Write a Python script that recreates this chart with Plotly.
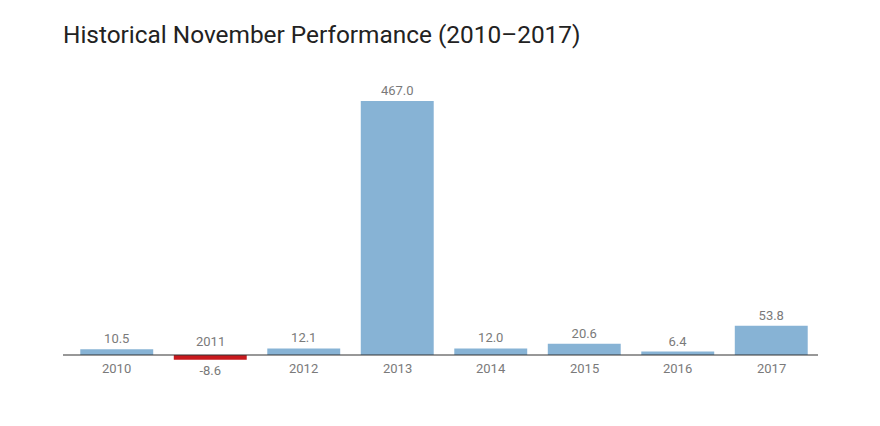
import plotly.graph_objects as go

years = ["2010", "2011", "2012", "2013", "2014", "2015", "2016", "2017"]
values = [10.5, -8.6, 12.1, 467.0, 12.0, 20.6, 6.4, 53.8]

BLUE = "#87b3d5"
RED = "#c8191d"
GREY = "#7a7a7a"

colors = [RED if v < 0 else BLUE for v in values]

fig = go.Figure(
    go.Bar(
        x=years,
        y=values,
        marker=dict(color=colors, line=dict(width=0)),
        text=[f"{v:.1f}" for v in values],
        textposition="outside",
        textfont=dict(family="Roboto", size=13, color=GREY),
        cliponaxis=False,
        hoverinfo="x+y",
    )
)

# year labels: under the axis for positive bars, above it for negative ones
# (x given as category index so "2010" isn't read as a position)
for i, (yr, v) in enumerate(zip(years, values)):
    fig.add_annotation(
        x=i, y=0, text=yr, showarrow=False,
        yanchor="bottom" if v < 0 else "top",
        yshift=4 if v < 0 else -4,
        font=dict(family="Roboto", size=13, color=GREY),
    )

# baseline sticks out a little to the left of the first bar
fig.add_shape(
    type="line", xref="paper", yref="y",
    x0=-7 / 748, x1=1, y0=0, y1=0,
    line=dict(color="#333333", width=1.2),
)

# page body has an 8px margin, so everything is nudged up/left by 8px
fig.update_layout(
    width=880,
    height=426,
    paper_bgcolor="white",
    plot_bgcolor="white",
    margin=dict(l=62, r=70, t=72, b=54),
    bargap=0.22,
    showlegend=False,
    title=dict(
        text="Historical November Performance (2010–2017)",
        x=55 / 880, xanchor="left",
        y=0.939, yanchor="middle",
        pad=dict(l=0, r=0, t=0, b=0),
        font=dict(family="Roboto", size=24.4, color="#222222"),
    ),
    xaxis=dict(type="category", range=[-0.5, 7.5], showticklabels=False,
               showgrid=False, zeroline=False, showline=False, ticks=""),
    yaxis=dict(range=[-46, 505.6], showticklabels=False, showgrid=False,
               zeroline=False, showline=False),
)

fig.write_html("out.html")
